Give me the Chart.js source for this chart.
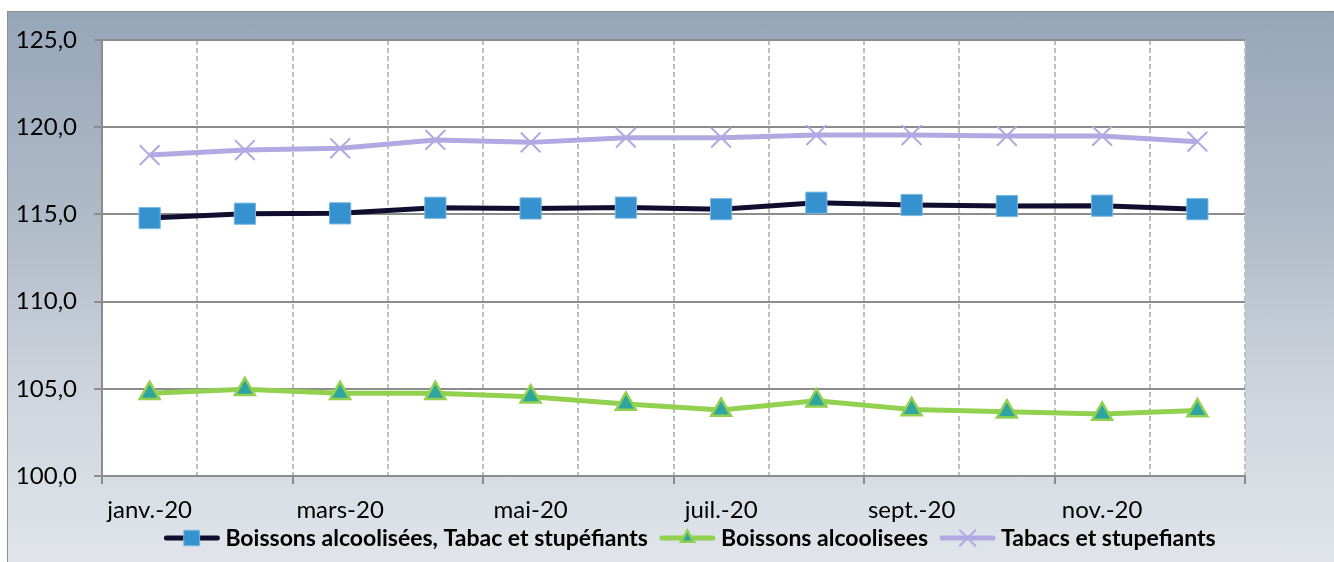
<!DOCTYPE html>
<html>
<head>
<meta charset="utf-8">
<script src="https://cdn.jsdelivr.net/npm/chart.js@4.4.1/dist/chart.umd.min.js"></script>
<style>
  html, body { margin: 0; padding: 0; background: #fff; }
  #frame {
    position: absolute; left: 7px; top: 11px; width: 1327px; height: 551px;
    border-top: 1px solid #8e8e8e; border-left: 1px solid #8e8e8e;
    background: linear-gradient(to bottom, #96a6b9 0%, #b1bcc9 40%, #cfd5de 70%, #e1e5ea 100%);
  }
  canvas { display: block; }
</style>
</head>
<body>
<div id="frame"><canvas id="chart" width="1326" height="550"></canvas></div>
<script>
// months on the x axis (only every other one gets a label)
const months = ['janv.-20', 'févr.-20', 'mars-20', 'avr.-20', 'mai-20', 'juin-20',
  'juil.-20', 'août-20', 'sept.-20', 'oct.-20', 'nov.-20', 'déc.-20'];

const boissonsTabac = [114.79, 115.04, 115.06, 115.38, 115.34, 115.39, 115.30, 115.67, 115.54, 115.48, 115.50, 115.30];
const boissons = [104.74, 104.97, 104.74, 104.74, 104.55, 104.13, 103.78, 104.32, 103.82, 103.69, 103.56, 103.75];
const tabacs = [118.40, 118.69, 118.79, 119.27, 119.13, 119.40, 119.40, 119.55, 119.55, 119.50, 119.50, 119.17];

const seriesLabels = ['Boissons alcoolisées, Tabac et stupéfiants', 'Boissons alcoolisees', 'Tabacs et stupefiants'];

const yMin = 100, yMax = 125, yStep = 5;

const GRID = '#8c8c8c';
const DASHED = '#bfbfbf';
const tickFont = { family: 'Lato', size: 24 };

// white plot area on top of the gradient frame
const plotBackground = {
  id: 'plotBackground',
  beforeDraw(chart) {
    const { ctx, chartArea: a } = chart;
    ctx.save();
    ctx.fillStyle = '#fff';
    ctx.fillRect(a.left, a.top, a.right - a.left, a.bottom - a.top);
    ctx.restore();
  },
};

// Excel-like legend: line segment with the marker in its middle
const lineLegend = {
  id: 'lineLegend',
  afterDraw(chart) {
    const ctx = chart.ctx;
    const sets = chart.data.datasets;
    const iconW = 55, textGap = 6, itemGap = 12;
    const y = chart.chartArea.bottom + 62;
    ctx.save();
    ctx.font = 'bold 23px Lato';
    ctx.textBaseline = 'middle';
    const widths = sets.map((d) => iconW + textGap + ctx.measureText(d.label).width);
    const total = widths.reduce((s, w) => s + w, 0) + itemGap * (sets.length - 1);
    let x = 682 - total / 2;

    sets.forEach((d, i) => {
      ctx.strokeStyle = d.borderColor;
      ctx.lineWidth = 5;
      ctx.lineCap = 'round';
      ctx.beginPath();
      ctx.moveTo(x + 2, y);
      ctx.lineTo(x + iconW - 2, y);
      ctx.stroke();

      ctx.fillStyle = d.pointBackgroundColor;
      ctx.strokeStyle = d.pointBorderColor;
      ctx.lineWidth = d.pointBorderWidth;
      Chart.helpers.drawPoint(ctx, {
        pointStyle: d.pointStyle,
        radius: d.legendRadius,
        borderWidth: d.pointBorderWidth,
        rotation: 0,
      }, x + iconW / 2, y);

      ctx.fillStyle = '#000';
      ctx.fillText(d.label, x + iconW + textGap, y + 1);
      x += widths[i] + itemGap;
    });
    ctx.restore();
  },
};

new Chart(document.getElementById('chart'), {
  type: 'line',
  data: {
    labels: months,
    datasets: [
      {
        label: seriesLabels[0],
        data: boissonsTabac,
        borderColor: '#100d2e',
        borderWidth: 5,
        pointStyle: 'rect',
        pointRadius: 15,
        pointBackgroundColor: '#3592ce',
        pointBorderColor: '#7ab8e4',
        pointBorderWidth: 1,
        legendRadius: 11,
      },
      {
        label: seriesLabels[1],
        data: boissons,
        borderColor: '#92d050',
        borderWidth: 5,
        pointStyle: 'triangle',
        pointRadius: 11.5,
        pointBackgroundColor: '#2ea59f',
        pointBorderColor: '#92d050',
        pointBorderWidth: 2.5,
        legendRadius: 7.5,
      },
      {
        label: seriesLabels[2],
        data: tabacs,
        borderColor: '#b1a9e2',
        borderWidth: 5,
        pointStyle: 'crossRot',
        pointRadius: 14,
        pointBackgroundColor: '#b1a9e2',
        pointBorderColor: '#b1a9e2',
        pointBorderWidth: 2,
        legendRadius: 11,
      },
    ],
  },
  options: {
    responsive: false,
    animation: false,
    events: [],
    layout: { padding: { left: 0, right: 89, top: 28, bottom: 0 } },
    plugins: { legend: { display: false }, tooltip: { enabled: false } },
    elements: { line: { tension: 0 } },
    scales: {
      x: {
        offset: true,
        grid: {
          offset: true,
          color: (c) => (c.index === 0 ? 'rgba(0,0,0,0)' : DASHED),
          lineWidth: 2,
          tickLength: 8,
          tickWidth: 2,
          tickColor: (c) => (c.index === undefined || c.index % 2 === 0 ? GRID : 'rgba(0,0,0,0)'),
        },
        border: { color: GRID, width: 2, dash: [5, 3] },
        ticks: {
          autoSkip: false,
          maxRotation: 0,
          padding: 12,
          color: '#000',
          font: tickFont,
          callback: (v, i) => (i % 2 === 0 ? months[i] : ''),
        },
        afterFit: (s) => { s.height = 86; },
      },
      y: {
        min: yMin,
        max: yMax,
        grid: { color: GRID, lineWidth: 2, tickLength: 8, tickWidth: 2, tickColor: GRID },
        border: { color: GRID, width: 2 },
        ticks: {
          stepSize: yStep,
          padding: 17,
          color: '#000',
          font: tickFont,
          callback: (v) => v.toFixed(1).replace('.', ','),
        },
        afterFit: (s) => {
          s.width = 94;
          s.paddingTop = 14;
          s.paddingBottom = 14;
        },
      },
    },
  },
  plugins: [plotBackground, lineLegend],
});
</script>
</body>
</html>
